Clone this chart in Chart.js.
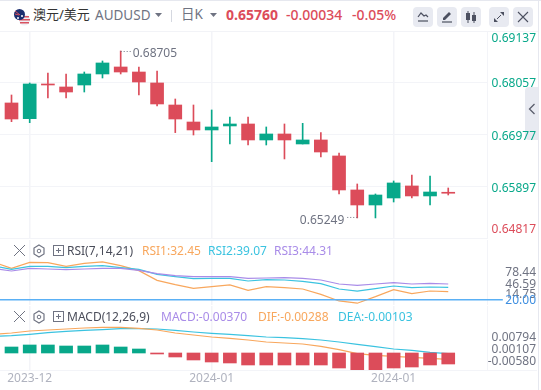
<!DOCTYPE html>
<html>
<head>
<meta charset="utf-8">
<script src="https://cdn.jsdelivr.net/npm/chart.js@4"></script>
<style>
  html, body { margin: 0; padding: 0; background: #fff; }
  body { width: 541px; height: 390px; position: relative; overflow: hidden; font-family: "Noto Sans", "Noto Sans CJK SC", sans-serif; }
  canvas { position: absolute; left: 0; }
  .t { position: absolute; white-space: nowrap; line-height: 16px; font-size: 12px; }
  .btn { position: absolute; top: 7px; width: 20px; height: 20px; background: #e8eaf1; border-radius: 4px; }
  .btn svg, .ico { position: absolute; left: 0; top: 0; }
  .line { position: absolute; background: #f2f3f7; }
</style>
</head>
<body>

<div class="line" style="left:0;top:0;width:541px;height:1px;background:#e6e8ef"></div>
<div class="line" style="left:0;top:31px;width:538px;height:1px"></div>
<div class="line" style="left:538px;top:0;width:1px;height:390px;background:#e6e8ef"></div>

<svg class="ico" style="left:13px;top:8px" width="18" height="18" viewBox="0 0 18 18">
  <circle cx="11.500" cy="12" r="5.500" fill="#eef0f6"/>
  <path d="M7 8h9v1.500H7zM6 11h11v1.500H6zM7 14h9v1.500H7z" fill="#d9525f"/>
  <circle cx="6.500" cy="6.500" r="5.500" fill="#1d2f6f"/>
  <path d="M2 3l5 4M2 6l4 1" stroke="#d9525f" stroke-width="1"/>
  <circle cx="9" cy="8" r="1" fill="#fff"/><circle cx="5" cy="10" r="1" fill="#fff"/>
</svg>
<div class="t" style="left:33px;top:6px;font-size:13px;color:#333">澳元/美元</div>
<div class="t" style="left:95px;top:7px;font-size:13.5px;color:#6f7382">AUDUSD</div>
<svg class="ico" style="left:155px;top:13px" width="7" height="5"><path d="M0 0h7L3.500 4z" fill="#6f7382"/></svg>
<div class="line" style="left:171px;top:10px;width:1px;height:12px;background:#d5d8e0"></div>
<div class="t" style="left:181px;top:6px;font-size:13.5px;color:#6f7382">日K</div>
<svg class="ico" style="left:210px;top:13px" width="7" height="5"><path d="M0 0h7L3.500 4z" fill="#6f7382"/></svg>
<div class="t" style="left:226px;top:7px;font-size:14px;font-weight:700;color:#dc4c5a">0.65760</div>
<div class="t" style="left:286px;top:7px;font-size:14px;font-weight:500;color:#dc4c5a">-0.00034</div>
<div class="t" style="left:352px;top:7px;font-size:14px;font-weight:500;color:#dc4c5a">-0.05%</div>

<div class="btn" style="left:413px"><svg width="20" height="20"><path d="M5 10l3-4 3 3 2-1 2 2" fill="none" stroke="#4c5060" stroke-width="1.200"/><path d="M5 14h10" stroke="#4c5060" stroke-width="1.200"/></svg></div>
<div class="btn" style="left:437px"><svg width="20" height="20"><path d="M6 11l6-6 2 2-6 6H6z" fill="#4c5060"/><path d="M5 15h10" stroke="#4c5060" stroke-width="1.200"/></svg></div>
<div class="btn" style="left:461px"><svg width="20" height="20"><path d="M7 4v12M13 5v11" stroke="#4c5060"/><rect x="5" y="6" width="4" height="7" fill="#4c5060"/><rect x="11" y="8" width="4" height="6" fill="#4c5060"/></svg></div>
<div class="btn" style="left:489px"><svg width="20" height="20"><path d="M11 5h4v4zM9 15H5v-4z" fill="#4c5060"/><path d="M8 12l4-4" stroke="#4c5060"/></svg></div>
<div class="btn" style="left:513px"><svg width="20" height="20"><path d="M5 5l10 10M15 5L5 15" stroke="#4c5060" stroke-width="1.100"/></svg></div>

<div id="collapse" style="position:absolute;left:525px;top:87px;width:13px;height:53px;background:#e8eaf1;border-radius:4px 0 0 4px"></div>

<canvas id="mainChart" style="top:32px"></canvas>
<canvas id="rsiChart" style="top:240px"></canvas>
<canvas id="macdChart" style="top:306px"></canvas>

<svg class="ico" style="left:528px;top:103px" width="8" height="12"><path d="M6.500 1L1.500 6l5 5" fill="none" stroke="#5a5e6c" stroke-width="1.300"/></svg>

<svg class="ico" style="left:12px;top:244px" width="54" height="14"><path d="M2 1l11 11M13 1L2 12" stroke="#6f7382" stroke-width="1"/><path d="M27 1l5 3v6l-5 3-5-3V4z" fill="none" stroke="#6f7382" stroke-width="1.200"/><circle cx="27" cy="7" r="1.800" fill="none" stroke="#6f7382"/><rect x="41.500" y="1.500" width="10" height="10" fill="none" stroke="#6f7382"/><path d="M44 6.500h5M46.500 4v5" stroke="#6f7382"/></svg>
<div class="t" style="left:67px;top:243px;color:#4a4d5a">RSI(7,14,21)</div>
<div class="t" style="left:142px;top:243px;color:#f8a75d">RSI1:32.45</div>
<div class="t" style="left:208px;top:243px;color:#3bc3e0">RSI2:39.07</div>
<div class="t" style="left:274px;top:243px;color:#a98ce8">RSI3:44.31</div>

<svg class="ico" style="left:12px;top:310px" width="54" height="14"><path d="M2 1l11 11M13 1L2 12" stroke="#6f7382" stroke-width="1"/><path d="M27 1l5 3v6l-5 3-5-3V4z" fill="none" stroke="#6f7382" stroke-width="1.200"/><circle cx="27" cy="7" r="1.800" fill="none" stroke="#6f7382"/><rect x="41.500" y="1.500" width="10" height="10" fill="none" stroke="#6f7382"/><path d="M44 6.500h5M46.500 4v5" stroke="#6f7382"/></svg>
<div class="t" style="left:67px;top:309px;color:#4a4d5a">MACD(12,26,9)</div>
<div class="t" style="left:161px;top:309px;color:#a98ce8">MACD:-0.00370</div>
<div class="t" style="left:258px;top:309px;color:#f8a75d">DIF:-0.00288</div>
<div class="t" style="left:338px;top:309px;color:#3bc3e0">DEA:-0.00103</div>

<script>
// candles, one per session
const candleOpen = [0.67629, 0.67304, 0.68022, 0.67960, 0.68001, 0.68229, 0.68374, 0.68270, 0.68043, 0.67587, 0.67235, 0.67070, 0.67153, 0.67194, 0.66863, 0.66987, 0.66780, 0.66863, 0.66532, 0.65828, 0.65517, 0.65662, 0.65911, 0.65704, 0.65766];
const candleClose = [0.67297, 0.68022, 0.68001, 0.67856, 0.68229, 0.68457, 0.68270, 0.68063, 0.67608, 0.67297, 0.67070, 0.67132, 0.67194, 0.66863, 0.66987, 0.66863, 0.66863, 0.66614, 0.65828, 0.65517, 0.65724, 0.65973, 0.65704, 0.65786, 0.65760];
const candleHigh = [0.67794, 0.68043, 0.68250, 0.68229, 0.68270, 0.68498, 0.68705, 0.68374, 0.68290, 0.67711, 0.67587, 0.67484, 0.67339, 0.67339, 0.67132, 0.67194, 0.67208, 0.67015, 0.66594, 0.65952, 0.65745, 0.66014, 0.66138, 0.66118, 0.65869];
const candleLow = [0.67242, 0.67221, 0.67732, 0.67732, 0.67856, 0.68146, 0.68229, 0.67794, 0.67566, 0.67015, 0.66966, 0.66414, 0.66780, 0.66759, 0.66759, 0.66470, 0.66780, 0.66511, 0.65745, 0.65249, 0.65249, 0.65579, 0.65662, 0.65517, 0.65724];

// first entry of the indicator lines is the session just left of the frame
const rsi1 = [78.0, 68.4, 77.6, 77.1, 71.5, 76.1, 78.44, 72.5, 64.8, 49.9, 43.3, 37.6, 40.2, 42.8, 34.6, 40.2, 38.7, 36.6, 28.4, 18.2, 14.75, 24.8, 35.6, 29.4, 33.5, 32.45];
const rsi2 = [72.5, 66.9, 71.5, 71.5, 69.4, 71.5, 72.5, 69.4, 66.9, 59.2, 55.6, 52.5, 53.0, 53.0, 48.9, 51.0, 50.5, 48.4, 44.8, 36.6, 33.5, 37.1, 41.2, 38.7, 39.7, 39.07];
const rsi3 = [68.4, 64.3, 68.4, 67.4, 66.4, 67.4, 68.4, 68.4, 65.3, 60.2, 57.1, 55.6, 55.6, 55.6, 53.0, 53.5, 54.1, 53.0, 50.5, 44.3, 42.3, 44.3, 46.4, 44.3, 45.3, 44.31];
const rsiLimit = 20;

const macdBars = [0.00200, 0.00267, 0.00267, 0.00233, 0.00233, 0.00267, 0.00200, 0.00133, -0.00033, -0.00133, -0.00233, -0.00300, -0.00333, -0.00400, -0.00400, -0.00400, -0.00400, -0.00400, -0.00500, -0.00567, -0.00567, -0.00500, -0.00467, -0.00400, -0.00367];
const dif = [0.00622, 0.00667, 0.00733, 0.00767, 0.00800, 0.00833, 0.00856, 0.00856, 0.00822, 0.00767, 0.00667, 0.00600, 0.00533, 0.00489, 0.00433, 0.00367, 0.00333, 0.00300, 0.00222, 0.00111, -0.00022, -0.00078, -0.00111, -0.00144, -0.00178, -0.00211];
const dea = [0.00556, 0.00578, 0.00622, 0.00678, 0.00722, 0.00756, 0.00778, 0.00811, 0.00811, 0.00800, 0.00756, 0.00700, 0.00656, 0.00622, 0.00578, 0.00533, 0.00511, 0.00478, 0.00433, 0.00367, 0.00289, 0.00211, 0.00133, 0.00089, 0.00022, -0.00022];

// axis labels
const priceTicks = ["0.69137", "0.68057", "0.66977", "0.65897", "0.64817"];
const rsiTicks = ["78.44", "46.59", "14.75", "20.00"];
const macdTicks = ["0.00794", "0.00107", "-0.00580"];
const dateTicks = ["2023-12", "2024-01", "2024-01"];
const dateTickIndex = [1, 11, 21];

const RED = "#dc4c5a";
const GREEN = "#08a88a";
const GRID = "#f3f4f8";
const AXIS_TEXT = "#6f7382";
const FONT = "Noto Sans";

// x scale bounds so session 0 sits at 11.5px with an 18.2px step
const xMin = -0.632;
const xMax = 26.13;

function xy(list, start) {
  return list.map((v, i) => ({ x: i + start, y: v }));
}

// right hand label column, its rows are in panel pixels
function rowAxis(texts, rows, height, colorOf) {
  return {
    type: "linear",
    axis: "y",
    position: "right",
    min: 0,
    max: height,
    reverse: true,
    grid: { display: false },
    border: { display: false },
    afterBuildTicks: (s) => { s.ticks = rows.map((r) => ({ value: r })); },
    afterFit: (s) => { s.width = 49; s.paddingTop = 0; s.paddingBottom = 0; },
    ticks: {
      autoSkip: false,
      padding: 0,
      crossAlign: "far",
      font: { family: FONT, size: 12 },
      color: (c) => colorOf(c.index),
      callback: (v, i) => texts[i],
    },
  };
}

function xAxis(showLabels) {
  return {
    type: "linear",
    min: xMin,
    max: xMax,
    offset: false,
    grid: { offset: false, color: GRID, lineWidth: 1.5, drawTicks: false },
    border: { display: false },
    afterBuildTicks: (s) => { s.ticks = dateTickIndex.map((v) => ({ value: v })); },
    afterFit: (s) => { s.height = showLabels ? 20 : 0; s.paddingLeft = 0; s.paddingRight = 0; },
    ticks: {
      display: showLabels,
      autoSkip: false,
      maxRotation: 0,
      padding: 1,
      color: "#b0b3bf",
      font: { family: FONT, size: 12 },
      callback: (v, i) => dateTicks[i],
    },
  };
}

function hiddenY(min, max, gridValues) {
  return {
    type: "linear",
    position: "right",
    min: min,
    max: max,
    afterBuildTicks: (s) => { s.ticks = gridValues.map((v) => ({ value: v })); },
    afterFit: (s) => { s.width = 0; },
    grid: { color: gridValues.length ? GRID : "transparent", drawTicks: false },
    border: { display: false },
    ticks: { display: false },
  };
}

function lineSet(list, color) {
  return { type: "line", data: xy(list, -1), borderColor: color, borderWidth: 1.2, pointRadius: 0, tension: 0 };
}

const baseOptions = {
  responsive: false,
  animation: false,
  layout: { padding: { right: 5, left: 0, top: 0, bottom: 0 } },
  plugins: { legend: { display: false }, tooltip: { enabled: false } },
};

// dotted leader and price text at the highest and lowest candle
const extremeLabels = {
  id: "extremeLabels",
  afterDatasetsDraw(chart) {
    const { ctx, scales } = chart;
    const hi = candleHigh.indexOf(Math.max(...candleHigh));
    const lo = candleLow.indexOf(Math.min(...candleLow));
    ctx.save();
    ctx.font = "12px " + FONT;
    ctx.fillStyle = AXIS_TEXT;
    ctx.strokeStyle = AXIS_TEXT;
    ctx.setLineDash([1, 2]);
    ctx.textBaseline = "middle";

    let x = scales.x.getPixelForValue(hi);
    let y = scales.y.getPixelForValue(candleHigh[hi]);
    ctx.beginPath(); ctx.moveTo(x, y + 0.5); ctx.lineTo(x + 11, y + 0.5); ctx.stroke();
    ctx.textAlign = "left";
    ctx.fillText(candleHigh[hi].toFixed(5), x + 12, y + 3);

    x = scales.x.getPixelForValue(lo);
    y = scales.y.getPixelForValue(candleLow[lo]);
    ctx.beginPath(); ctx.moveTo(x, y - 0.5); ctx.lineTo(x - 11, y - 0.5); ctx.stroke();
    ctx.textAlign = "right";
    ctx.fillText(candleLow[lo].toFixed(5), x - 13, y + 3);
    ctx.restore();
  },
};

// vertical rule between plot and label column, and the panel floor
const frameLines = {
  id: "frameLines",
  beforeDraw(chart) {
    const { ctx, chartArea } = chart;
    ctx.save();
    ctx.strokeStyle = GRID;
    ctx.beginPath();
    ctx.moveTo(chartArea.right + 0.5, 0);
    ctx.lineTo(chartArea.right + 0.5, chartArea.bottom);
    ctx.moveTo(0, chartArea.bottom + 0.5);
    ctx.lineTo(537, chartArea.bottom + 0.5);
    ctx.stroke();
    ctx.restore();
  },
};

function makeCanvas(id, height) {
  const c = document.getElementById(id);
  c.width = 541;
  c.height = height;
  c.style.width = "541px";
  c.style.height = height + "px";
  return c;
}

////////// main candles
const candleColors = candleOpen.map((o, i) => (candleClose[i] >= o ? GREEN : RED));
new Chart(makeCanvas("mainChart", 207), {
  type: "bar",
  data: {
    datasets: [
      {
        data: candleLow.map((l, i) => ({ x: i, y: [l, candleHigh[i]] })),
        backgroundColor: candleColors,
        barThickness: 1,
        grouped: false,
      },
      {
        data: candleOpen.map((o, i) => ({ x: i, y: [o, candleClose[i]] })),
        backgroundColor: candleColors,
        barThickness: 13,
        minBarLength: 1,
        grouped: false,
      },
    ],
  },
  options: {
    ...baseOptions,
    scales: {
      x: xAxis(false),
      y: hiddenY(0.64813, 0.69098, priceTicks.slice(1).map(Number)),
      rows: rowAxis(priceTicks, [7, 52, 104.5, 156.5, 197.5], 207, (i) => (i === 4 ? RED : GREEN)),
    },
  },
  plugins: [extremeLabels, frameLines],
});

////////// RSI
new Chart(makeCanvas("rsiChart", 65), {
  type: "line",
  data: {
    datasets: [
      { type: "line", data: [{ x: xMin, y: rsiLimit }, { x: 27, y: rsiLimit }], borderColor: "#5ab0f5", borderWidth: 1.5, pointRadius: 0, clip: false },
      lineSet(rsi3, "#a98ce8"),
      lineSet(rsi2, "#3bc3e0"),
      lineSet(rsi1, "#f8a75d"),
    ],
  },
  options: {
    ...baseOptions,
    scales: {
      x: xAxis(false),
      y: hiddenY(12, 112, []),
      rows: rowAxis(rsiTicks, [32.5, 45, 55, 60.5], 65, (i) => (i === 3 ? "#3f8fe0" : AXIS_TEXT)),
    },
  },
  plugins: [frameLines],
});

////////// MACD
new Chart(makeCanvas("macdChart", 84), {
  type: "bar",
  data: {
    datasets: [
      {
        data: xy(macdBars, 0),
        backgroundColor: macdBars.map((v) => (v >= 0 ? GREEN : RED)),
        barThickness: 13,
      },
      lineSet(dif, "#f8a75d"),
      lineSet(dea, "#3bc3e0"),
    ],
  },
  options: {
    ...baseOptions,
    scales: {
      x: xAxis(true),
      y: hiddenY(-0.00567, 0.01567, []),
      rows: rowAxis(macdTicks, [32, 44, 56], 64, () => AXIS_TEXT),
    },
  },
  plugins: [frameLines],
});
</script>
</body>
</html>
